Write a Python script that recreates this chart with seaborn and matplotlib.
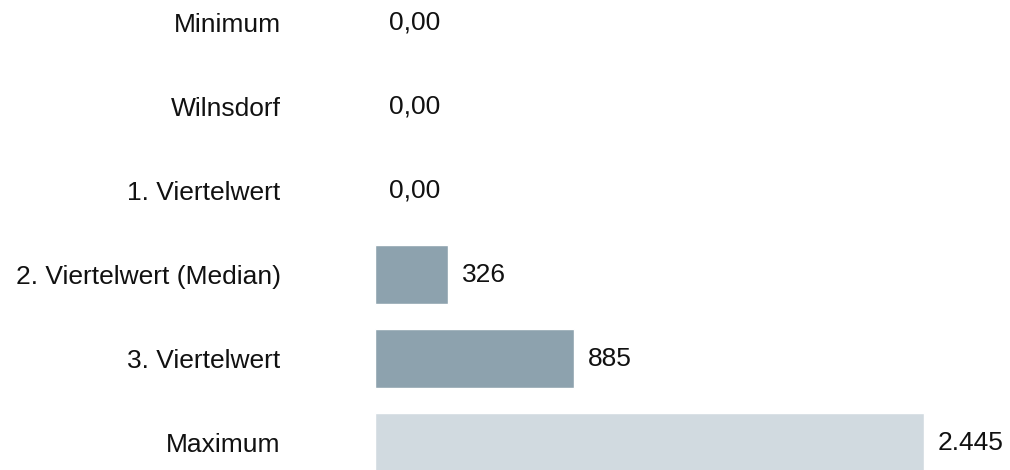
import numpy as np
import pandas as pd
import matplotlib
matplotlib.use("Agg")
import matplotlib.pyplot as plt
import seaborn as sns

categories = ["Minimum", "Wilnsdorf", "1. Viertelwert", "2. Viertelwert (Median)",
              "3. Viertelwert", "Maximum"]
values = [0, 0, 0, 326, 885, 2445]
value_labels = ["0,00", "0,00", "0,00", "326", "885", "2.445"]
bar_colors = ["#8DA2AE", "#8DA2AE", "#8DA2AE", "#8DA2AE", "#8DA2AE", "#D1DAE0"]

df = pd.DataFrame({"kategorie": categories, "wert": values})

sns.set_style("white")
plt.rcParams["font.family"] = ["Liberation Sans", "DejaVu Sans"]

fig = plt.figure(figsize=(10.1, 4.7), dpi=100)
# axes from x=375px to right edge, full height
ax = fig.add_axes([375 / 1010, 0, 1 - 375 / 1010, 1])

sns.barplot(data=df, y="kategorie", x="wert", hue="kategorie",
            palette=bar_colors, legend=False, width=0.7, saturation=1,
            orient="h", ax=ax)

px_per_unit = 549 / 2445
ax.set_xlim(0, (1010 - 375) / px_per_unit)
ax.set_ylim((470 - 22.5) / 84, -22.5 / 84)

for cont, lab in zip(ax.containers, value_labels):
    ax.bar_label(cont, labels=[lab], padding=10, fontsize=19, color="#111111")

ax.set_xlabel("")
ax.set_ylabel("")
ax.set_xticks([])
ax.tick_params(axis="y", length=0, pad=68, labelsize=19, labelcolor="#111111")
sns.despine(ax=ax, left=True, bottom=True)

fig.savefig("out.png", dpi=100)
